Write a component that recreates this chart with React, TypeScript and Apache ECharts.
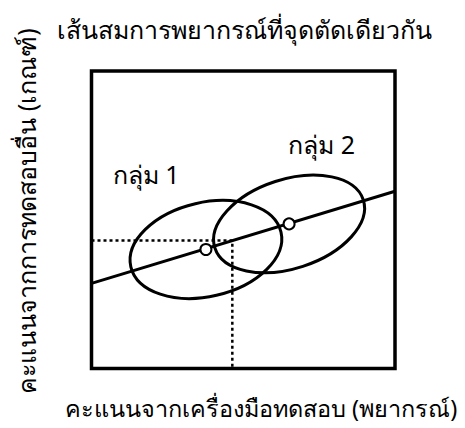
import React, { useEffect, useRef } from "react";
import * as echarts from "echarts";

// Texts
const titleText = "เส้นสมการพยากรณ์ที่จุดตัดเดียวกัน";
const xLabel = "คะแนนจากเครื่องมือทดสอบ (พยากรณ์)";
const yLabel = "คะแนนจากการทดสอบอื่น (เกณฑ์)";
const groupNames = ["กลุ่ม 1", "กลุ่ม 2"];

// Axis ranges (abstract score units)
const xRange = [0, 100];
const yRange = [0, 100];

// Regression line end points [x, y]
const regressionLine = [
  [0, 28.6],
  [100, 59.6],
];

// Group means (centres) [x, y]
const groupMeans = [
  [37.7, 40.0],
  [65.1, 48.6],
];

// Group ellipses: semi-major, semi-minor (x units), tilt (degrees)
const ellipseSemiMajor = [25.4, 25.7];
const ellipseSemiMinor = [15.5, 14.7];
const ellipseTilt = [13, 18];

// Group label anchor points [x, y]
const groupLabelPos = [
  [7.0, 65.5],
  [64.8, 75.5],
];

// Prediction projection point
const projection = [46.4, 43.0];

const FONT = "'Noto Sans', 'DejaVu Sans', sans-serif";

export default function App() {
  const ref = useRef<HTMLDivElement>(null);
  useEffect(() => {
    document.body.style.margin = "0";
    const chart = echarts.init(ref.current!, null, { renderer: "svg" });
    const ellipseData = groupMeans.map((m, i) => [
      m[0],
      m[1],
      ellipseSemiMajor[i],
      ellipseSemiMinor[i],
      ellipseTilt[i],
    ]);
    const option: any = {
      animation: false,
      backgroundColor: "#fff",
      grid: {
        left: 91.5,
        top: 71,
        width: 303.5,
        height: 297.5,
        show: true,
        borderColor: "#000",
        borderWidth: 3.5,
        backgroundColor: "transparent",
      },
      xAxis: {
        type: "value",
        min: xRange[0],
        max: xRange[1],
        axisLine: { show: false },
        axisTick: { show: false },
        axisLabel: { show: false },
        splitLine: { show: false },
      },
      yAxis: {
        type: "value",
        min: yRange[0],
        max: yRange[1],
        axisLine: { show: false },
        axisTick: { show: false },
        axisLabel: { show: false },
        splitLine: { show: false },
      },
      graphic: [
        {
          type: "text",
          left: 57,
          top: 16,
          style: { text: titleText, font: `25px ${FONT}`, fill: "#000" },
        },
        {
          type: "text",
          left: 65,
          top: 396,
          style: { text: xLabel, font: `23.5px ${FONT}`, fill: "#000" },
        },
        {
          type: "text",
          x: 26,
          y: 211,
          rotation: Math.PI / 2,
          style: {
            text: yLabel,
            font: `25px ${FONT}`,
            fill: "#000",
            align: "center",
            verticalAlign: "middle",
          },
        },
      ],
      series: [
        {
          type: "line",
          data: [
            [xRange[0], projection[1]],
            projection,
            [projection[0], yRange[0]],
          ],
          symbol: "none",
          lineStyle: { color: "#000", width: 2.5, type: [3, 3] },
          z: 2,
        },
        {
          type: "custom",
          data: ellipseData,
          renderItem: (params: any, api: any) => {
            const c = api.coord([api.value(0), api.value(1)]);
            const unit = api.size([1, 0])[0];
            return {
              type: "ellipse",
              x: c[0],
              y: c[1],
              rotation: (api.value(4) * Math.PI) / 180,
              shape: { cx: 0, cy: 0, rx: api.value(2) * unit, ry: api.value(3) * unit },
              style: { fill: "none", stroke: "#000", lineWidth: 3 },
            };
          },
          z: 3,
        },
        {
          type: "line",
          data: regressionLine,
          symbol: "none",
          lineStyle: { color: "#000", width: 3 },
          z: 4,
        },
        {
          type: "scatter",
          data: groupMeans,
          symbol: "circle",
          symbolSize: 11,
          itemStyle: { color: "#fff", borderColor: "#000", borderWidth: 2, opacity: 1 },
          z: 5,
        },
        {
          type: "scatter",
          data: groupLabelPos.map((p, i) => ({ value: p, name: groupNames[i] })),
          symbolSize: 1,
          itemStyle: { color: "transparent", opacity: 1 },
          label: {
            show: true,
            position: "inside",
            formatter: (p: any) => p.name,
            color: "#000",
            fontSize: 25,
            fontFamily: FONT,
            align: "left",
          },
          labelLayout: { hideOverlap: false },
          z: 6,
        },
      ],
    };
    chart.setOption(option);
    return () => chart.dispose();
  }, []);
  return <div ref={ref} style={{ width: 465, height: 428 }} />;
}
